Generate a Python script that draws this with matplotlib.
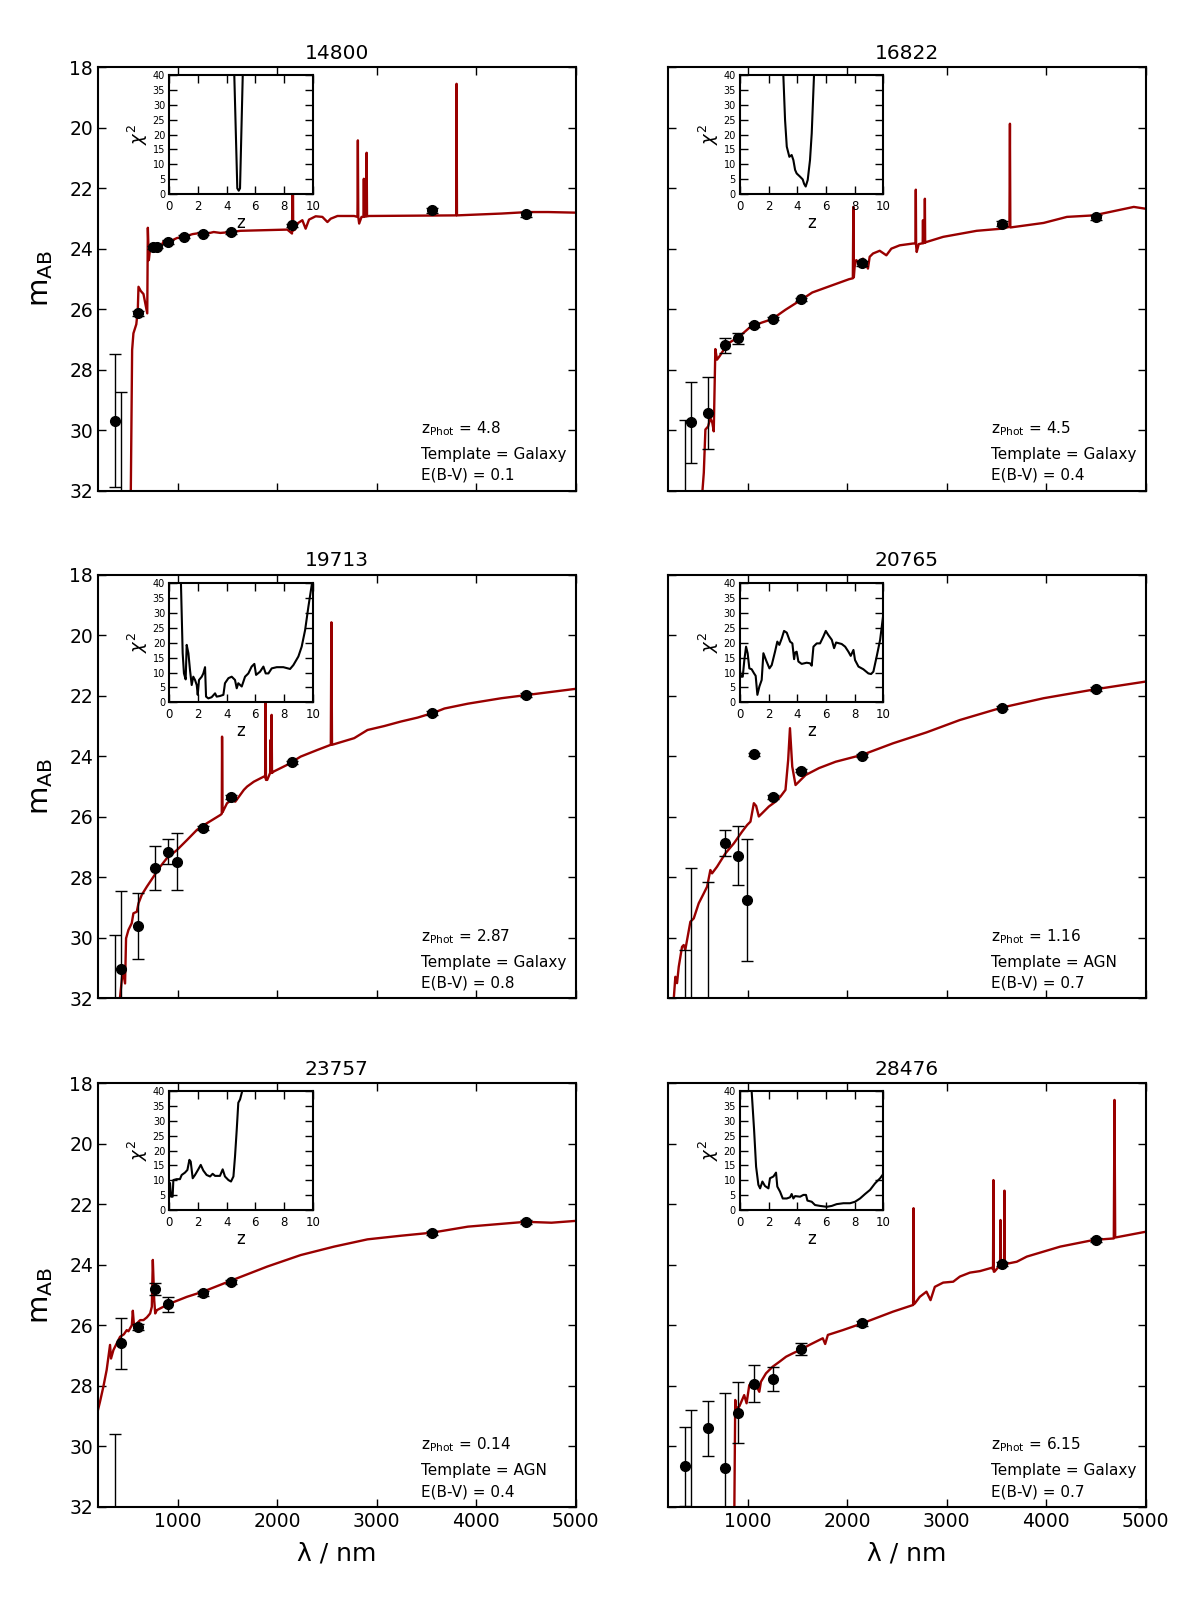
import matplotlib
matplotlib.use('Agg')
import matplotlib.pyplot as plt

# ---------------- photometry (lambda / nm, m_AB, error) ----------------
lam_14800 = [375, 436, 599, 755, 795, 908, 1060, 1254, 1540, 2151, 3556, 4500]
mag_14800 = [29.69, 33.5, 26.14, 23.95, 23.93, 23.78, 23.61, 23.50, 23.45, 23.23, 22.73, 22.87]
err_14800 = [2.2, 4.77, 0.08, 0.05, 0.05, 0.05, 0.05, 0.05, 0.05, 0.06, 0.08, 0.08]

lam_16822 = [375, 436, 599, 773, 908, 1060, 1254, 1540, 2151, 3556, 4500]
mag_16822 = [33.5, 29.74, 29.44, 27.19, 26.97, 26.53, 26.31, 25.68, 24.49, 23.17, 22.97]
err_16822 = [3.84, 1.34, 1.19, 0.25, 0.19, 0.06, 0.06, 0.06, 0.07, 0.08, 0.08]

lam_19713 = [375, 436, 599, 773, 908, 992, 1254, 1540, 2151, 3556, 4500]
mag_19713 = [33.5, 31.04, 29.61, 27.70, 27.15, 27.48, 26.36, 25.35, 24.20, 22.58, 21.98]
err_19713 = [3.58, 2.6, 1.08, 0.72, 0.41, 0.93, 0.07, 0.07, 0.06, 0.07, 0.07]

lam_20765 = [375, 436, 599, 773, 908, 992, 1060, 1254, 1540, 2151, 3556, 4500]
mag_20765 = [33.5, 33.5, 33.5, 26.88, 27.28, 28.75, 23.93, 25.35, 24.47, 23.98, 22.39, 21.78]
err_20765 = [3.10, 5.82, 5.34, 0.43, 0.97, 2.02, 0.05, 0.07, 0.06, 0.05, 0.06, 0.06]

lam_23757 = [375, 436, 599, 773, 908, 1254, 1540, 3556, 4500]
mag_23757 = [33.5, 26.60, 26.05, 24.81, 25.30, 24.95, 24.58, 22.96, 22.58]
err_23757 = [3.9, 0.85, 0.1, 0.2, 0.25, 0.07, 0.07, 0.07, 0.07]

lam_28476 = [375, 436, 599, 773, 908, 1060, 1254, 1540, 2151, 3556, 4500]
mag_28476 = [30.66, 33.5, 29.41, 30.73, 28.89, 27.94, 27.78, 26.80, 25.94, 23.98, 23.18]
err_28476 = [1.3, 4.7, 0.92, 2.48, 1.01, 0.61, 0.4, 0.2, 0.08, 0.07, 0.07]

# ---------------- best-fit template SEDs ----------------
sed_lam_14800 = [529, 543, 556, 585, 600, 607, 630, 657, 695, 701, 711, 724, 758, 830, 860, 880,
                 909, 993, 1061, 1150, 1229, 1300, 1363, 1430, 1541, 1632, 2103, 2150, 2158, 2162,
                 2180, 2203, 2254, 2287, 2321, 2388, 2455, 2506, 2539, 2607, 2775, 2808, 2812, 2816,
                 2825, 2849, 2868, 2872, 2876, 2896, 2900, 2904, 2926, 3800, 3804, 3808, 4254, 4523,
                 4724, 5000]
sed_mag_14800 = [32.3, 27.35, 26.8, 26.5, 26.03, 25.26, 25.4, 25.5, 26.14, 23.31, 24.38, 23.98, 23.94,
                 23.95, 23.75, 23.9, 23.78, 23.65, 23.61, 23.52, 23.48, 23.5, 23.45, 23.48, 23.45, 23.41,
                 23.37, 23.5, 20.5, 23.4, 23.37, 23.17, 23.06, 23.34, 23.04, 22.93, 22.95, 23.12, 23.01,
                 22.92, 22.92, 22.95, 20.42, 22.95, 23.17, 22.95, 22.95, 21.69, 22.95, 22.93, 20.83,
                 22.93, 22.92, 22.9, 18.55, 22.9, 22.84, 22.79, 22.79, 22.81]

sed_lam_16822 = [542, 560, 576, 603, 626, 645, 660, 676, 693, 720, 761, 811, 912, 1013, 1079, 1147,
                 1247, 1381, 1549, 1650, 1818, 2020, 2058, 2063, 2068, 2076, 2092, 2126, 2160, 2210,
                 2227, 2261, 2328, 2395, 2445, 2529, 2664, 2688, 2691, 2694, 2700, 2720, 2760, 2763,
                 2766, 2779, 2782, 2785, 2798, 2966, 3303, 3555, 3632, 3637, 3641, 3975, 4210, 4479,
                 4882, 5000]
sed_mag_16822 = [32.2, 31.41, 29.98, 29.88, 29.60, 29.75, 30.04, 27.32, 27.67, 27.55, 27.34, 27.12,
                 26.92, 26.63, 26.52, 26.44, 26.33, 26.02, 25.67, 25.45, 25.25, 25.01, 24.98, 22.62,
                 24.95, 24.60, 24.38, 24.47, 24.33, 24.66, 24.27, 24.16, 24.07, 24.22, 24.0, 23.89,
                 23.83, 23.83, 22.05, 23.9, 24.11, 23.85, 23.82, 23.06, 23.82, 23.8, 22.35, 23.8,
                 23.78, 23.61, 23.41, 23.34, 23.28, 19.87, 23.30, 23.15, 22.95, 22.90, 22.62, 22.68]

sed_lam_19713 = [412, 422, 449, 472, 482, 506, 539, 556, 590, 607, 640, 691, 758, 825, 892, 993,
                 1094, 1195, 1296, 1430, 1444, 1447, 1452, 1464, 1497, 1548, 1580, 1666, 1699, 1766,
                 1867, 1880, 1884, 1888, 1901, 1930, 1934, 1938, 1942, 1945, 1949, 1968, 2103, 2237,
                 2405, 2540, 2546, 2552, 2573, 2775, 2909, 3077, 3245, 3413, 3582, 3682, 3918, 4254,
                 4590, 5000]
sed_mag_19713 = [32.2, 31.95, 31.07, 31.51, 30.02, 29.74, 29.52, 29.19, 29.14, 28.86, 28.58, 28.31,
                 27.98, 27.65, 27.37, 27.10, 26.77, 26.43, 26.21, 25.94, 25.9, 23.35, 25.85, 25.77,
                 25.55, 25.44, 25.5, 25.11, 25.0, 24.84, 24.67, 24.7, 21.0, 24.78, 24.78, 24.55, 23.46,
                 24.55, 24.55, 22.63, 24.55, 24.50, 24.28, 24.01, 23.79, 23.62, 19.57, 23.62, 23.60,
                 23.40, 23.13, 23.0, 22.85, 22.72, 22.55, 22.42, 22.26, 22.08, 21.94, 21.77]

sed_lam_20765 = [257, 274, 291, 308, 341, 358, 374, 425, 459, 509, 560, 593, 626, 643, 693, 777,
                 862, 945, 996, 1029, 1063, 1086, 1113, 1147, 1214, 1281, 1331, 1381, 1408, 1426,
                 1449, 1482, 1516, 1583, 1718, 1885, 2154, 2462, 2798, 3134, 3555, 3975, 4502, 5000]
sed_mag_20765 = [32.06, 31.29, 31.5, 30.96, 30.30, 30.24, 30.40, 29.47, 29.36, 28.86, 28.53, 28.31,
                 27.76, 27.87, 27.65, 27.21, 26.88, 26.49, 26.27, 26.16, 25.55, 25.64, 25.99, 25.88,
                 25.66, 25.50, 25.33, 25.11, 24.12, 23.07, 24.34, 24.95, 24.84, 24.62, 24.39, 24.18,
                 23.95, 23.57, 23.21, 22.80, 22.39, 22.08, 21.78, 21.53]

sed_lam_23757 = [200, 220, 254, 287, 321, 331, 355, 388, 422, 460, 489, 506, 523, 540, 550, 563,
                 590, 624, 657, 691, 724, 741, 751, 765, 775, 792, 909, 1094, 1255, 1541, 1901, 2237,
                 2573, 2909, 3245, 3555, 3918, 4499, 4758, 5000]
sed_mag_23757 = [28.8, 28.53, 28.03, 27.48, 26.65, 27.10, 26.82, 26.60, 26.38, 26.3, 26.16, 26.2,
                 26.10, 26.0, 25.52, 26.05, 25.94, 25.83, 25.83, 25.74, 25.61, 25.39, 23.84, 25.17,
                 25.61, 25.50, 25.30, 25.06, 24.89, 24.52, 24.06, 23.68, 23.40, 23.16, 23.04, 22.94,
                 22.74, 22.58, 22.61, 22.55]

sed_lam_28476 = [866, 876, 885, 916, 966, 990, 1017, 1050, 1084, 1118, 1134, 1185, 1252, 1319, 1387,
                 1454, 1538, 1622, 1756, 1780, 1807, 1958, 2150, 2462, 2664, 2668, 2672, 2681, 2731,
                 2798, 2839, 2882, 2966, 3067, 3134, 3235, 3336, 3454, 3467, 3471, 3475, 3481, 3538,
                 3542, 3546, 3578, 3582, 3586, 3706, 3807, 4143, 4479, 4681, 4688, 4695, 5000]
sed_mag_28476 = [32.5, 28.47, 28.75, 28.69, 28.31, 28.58, 27.98, 27.87, 27.98, 28.20, 27.87, 27.59,
                 27.37, 27.21, 27.04, 26.93, 26.80, 26.65, 26.43, 26.62, 26.32, 26.16, 25.94, 25.55,
                 25.33, 22.13, 25.30, 25.28, 25.06, 24.89, 25.17, 24.73, 24.59, 24.56, 24.39, 24.26,
                 24.21, 24.10, 24.15, 21.20, 24.23, 24.23, 24.01, 22.52, 24.01, 23.98, 21.55, 23.98,
                 23.90, 23.73, 23.40, 23.18, 23.13, 18.55, 23.10, 22.91]

# ---------------- chi^2(z) curves for the insets ----------------
chi_z_14800 = [4.48, 4.53, 4.74, 4.84, 4.93, 5.12, 5.16]
chi_14800 = [50, 40, 1.9, 1.1, 1.9, 40, 50]

chi_z_16822 = [2.98, 3.02, 3.14, 3.26, 3.44, 3.60, 3.72, 3.84, 3.95, 4.19, 4.37, 4.47, 4.58, 4.72,
               4.88, 5.0, 5.16, 5.2]
chi_16822 = [50, 40, 24.9, 15.9, 12.5, 13.1, 11.4, 8.1, 6.9, 5.8, 4.9, 3.4, 2.5, 4.7, 11.4, 20.4, 40, 50]

chi_z_19713 = [0.78, 0.81, 0.93, 1.02, 1.14, 1.21, 1.33, 1.44, 1.56, 1.67, 1.79, 1.91, 1.98, 2.07,
               2.26, 2.37, 2.49, 2.56, 2.72, 2.95, 3.19, 3.30, 3.53, 3.77, 3.88, 4.12, 4.35, 4.58,
               4.70, 4.81, 5.05, 5.28, 5.51, 5.74, 5.93, 6.05, 6.33, 6.56, 6.72, 6.91, 7.14, 7.49,
               7.95, 8.42, 8.65, 9.0, 9.23, 9.47, 9.70, 9.93, 10.0]
chi_19713 = [50, 40, 16.5, 9.7, 7.7, 19.3, 16.5, 10.9, 5.8, 8.6, 7.5, 5.8, 2.5, 7.5, 8.6, 9.7, 11.8,
             1.9, 1.3, 1.7, 3.0, 1.9, 2.1, 2.5, 6.4, 8.1, 8.6, 7.5, 4.7, 6.4, 5.3, 8.6, 9.7, 12.0, 12.9,
             9.2, 10.3, 12.0, 9.7, 9.7, 11.4, 11.8, 11.8, 11.2, 12.5, 15.4, 18.7, 24.3, 32.2, 39.4, 42]

chi_z_20765 = [0.0, 0.07, 0.19, 0.30, 0.42, 0.53, 0.65, 0.81, 0.98, 1.09, 1.21, 1.35, 1.51, 1.63,
               1.81, 2.05, 2.21, 2.44, 2.60, 2.74, 2.91, 3.07, 3.26, 3.49, 3.65, 3.77, 3.84, 3.95,
               4.07, 4.30, 4.65, 4.88, 5.0, 5.12, 5.35, 5.58, 5.81, 5.98, 6.16, 6.40, 6.56, 6.70,
               7.09, 7.33, 7.56, 7.72, 7.91, 8.02, 8.26, 8.60, 8.95, 9.14, 9.30, 9.53, 9.77, 10.0]
chi_20765 = [10.5, 8.6, 8.6, 14.2, 18.7, 16.5, 11.4, 11.1, 9.7, 8.9, 2.5, 5.3, 7.5, 16.5, 14.2, 11.4,
             12.5, 17.0, 20.4, 19.3, 21.5, 24.0, 23.4, 20.4, 19.8, 14.5, 16.7, 17.0, 13.7, 12.9, 13.3,
             13.1, 12.3, 18.7, 19.8, 19.8, 22.1, 24.0, 22.6, 21.0, 18.2, 20.1, 19.6, 18.7, 17.0, 15.6,
             17.6, 14.2, 12.0, 11.1, 9.7, 9.5, 10.3, 15.4, 21.0, 29.9]

chi_z_23757 = [0.05, 0.12, 0.23, 0.28, 0.51, 0.74, 0.86, 1.09, 1.26, 1.40, 1.49, 1.63, 1.79, 2.02,
               2.19, 2.37, 2.60, 2.84, 3.02, 3.19, 3.53, 3.72, 3.88, 4.12, 4.30, 4.47, 4.58, 4.70,
               4.81, 4.93, 5.05, 5.16]
chi_23757 = [9.0, 4.5, 4.5, 10.1, 10.4, 10.4, 11.8, 12.6, 13.5, 16.9, 16.3, 10.7, 11.8, 13.7, 15.2,
             13.3, 11.8, 11.3, 12.2, 11.5, 11.5, 13.7, 11.3, 10.1, 9.6, 11.3, 18.0, 27.0, 36.1, 37.2,
             39.4, 41.7]

chi_z_28476 = [0.78, 0.81, 0.98, 1.12, 1.28, 1.40, 1.56, 1.74, 1.98, 2.09, 2.33, 2.51, 2.60, 2.79,
               2.98, 3.26, 3.49, 3.60, 3.72, 3.84, 4.19, 4.42, 4.60, 4.70, 5.0, 5.23, 5.58, 6.05,
               6.40, 6.74, 7.21, 7.67, 8.02, 8.37, 8.72, 9.07, 9.42, 9.77, 10.0]
chi_28476 = [50, 40, 27.0, 14.6, 8.5, 7.3, 9.6, 8.1, 7.3, 10.7, 11.3, 12.6, 7.9, 6.2, 3.9, 3.9, 4.3,
             5.4, 3.9, 4.7, 4.5, 5.1, 5.1, 3.2, 2.8, 1.7, 1.4, 1.1, 1.4, 2.0, 2.3, 2.3, 2.8, 3.9, 5.4,
             6.8, 9.0, 10.7, 12.2]

names = ['14800', '16822', '19713', '20765', '23757', '28476']
zphot = ['4.8', '4.5', '2.87', '1.16', '0.14', '6.15']
templates = ['Galaxy', 'Galaxy', 'Galaxy', 'AGN', 'AGN', 'Galaxy']
ebv = ['0.1', '0.4', '0.8', '0.7', '0.4', '0.7']

phot = [(lam_14800, mag_14800, err_14800), (lam_16822, mag_16822, err_16822),
        (lam_19713, mag_19713, err_19713), (lam_20765, mag_20765, err_20765),
        (lam_23757, mag_23757, err_23757), (lam_28476, mag_28476, err_28476)]
seds = [(sed_lam_14800, sed_mag_14800), (sed_lam_16822, sed_mag_16822),
        (sed_lam_19713, sed_mag_19713), (sed_lam_20765, sed_mag_20765),
        (sed_lam_23757, sed_mag_23757), (sed_lam_28476, sed_mag_28476)]
chis = [(chi_z_14800, chi_14800), (chi_z_16822, chi_16822), (chi_z_19713, chi_19713),
        (chi_z_20765, chi_20765), (chi_z_23757, chi_23757), (chi_z_28476, chi_28476)]

# axes layout (figure fractions)
col_x = [0.0827, 0.5637]
row_y = [0.6947, 0.3788, 0.0624]
ax_w, ax_h = 0.4030, 0.2635
ins_x = [0.1429, 0.6245]
ins_y = [0.8793, 0.5630, 0.2470]
ins_w, ins_h = 0.1210, 0.0740

sed_color = '#990000'

fig = plt.figure(figsize=(11.85, 16.07), dpi=100)

for i in range(6):
    r, c = i // 2, i % 2
    ax = fig.add_axes([col_x[c], row_y[r], ax_w, ax_h])
    ax.plot(seds[i][0], seds[i][1], color=sed_color, lw=1.7, zorder=2)
    lam, mag, err = phot[i]
    ax.errorbar(lam, mag, yerr=err, fmt='o', color='k', ms=7, capsize=4.3,
                elinewidth=1, capthick=1, zorder=3)
    ax.set_xlim(200, 5000)
    ax.set_ylim(32, 18)
    ax.set_xticks([1000, 2000, 3000, 4000, 5000])
    ax.set_yticks(range(18, 33, 2))
    ax.tick_params(direction='in', top=True, right=True, length=6, width=1,
                   labelsize=13.5)
    for sp in ax.spines.values():
        sp.set_linewidth(1.5)
    if r < 2:
        ax.set_xticklabels([])
    else:
        ax.set_xlabel('\u03bb / nm', fontsize=18, labelpad=8)
    if c == 1:
        ax.set_yticklabels([])
    else:
        ax.set_ylabel(r'$\mathrm{m_{AB}}$', fontsize=21, labelpad=10)
    ax.set_title(names[i], fontsize=14.5)

    ax.text(0.6765, 0.1355, r'z$_\mathrm{Phot}$ = ' + zphot[i], transform=ax.transAxes,
            fontsize=11, va='baseline')
    ax.text(0.6765, 0.0748, 'Template = ' + templates[i], transform=ax.transAxes,
            fontsize=11, va='baseline')
    ax.text(0.6765, 0.0252, 'E(B-V) = ' + ebv[i], transform=ax.transAxes,
            fontsize=11, va='baseline')

    ins = fig.add_axes([ins_x[c], ins_y[r], ins_w, ins_h])
    ins.plot(chis[i][0], chis[i][1], color='k', lw=1.5)
    ins.set_xlim(0, 10)
    ins.set_ylim(0, 40)
    ins.set_xticks(range(0, 11, 2))
    ins.set_yticks(range(0, 41, 5))
    ins.tick_params(direction='in', top=True, right=True, length=6, width=1)
    ins.tick_params(axis='y', labelsize=7, pad=3)
    ins.tick_params(axis='x', labelsize=8.5, pad=4)
    for sp in ins.spines.values():
        sp.set_linewidth(1.5)
    ins.set_xlabel('z', fontsize=12, labelpad=1)
    ins.set_ylabel(r'$\chi^2$', fontsize=13, labelpad=2)

fig.savefig('out.png', dpi=100)
